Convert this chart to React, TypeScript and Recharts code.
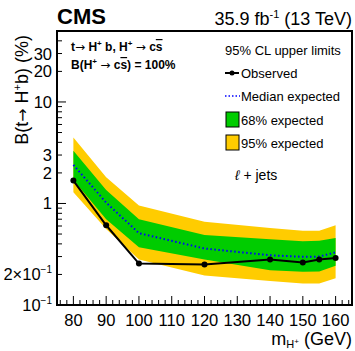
import React from 'react';
import { ComposedChart, Area, Line, XAxis, YAxis } from 'recharts';

// Charged Higgs mass points (GeV)
const masses = [80, 90, 100, 120, 140, 150, 155, 160];
// 95% CL upper limits on B(t -> H+ b) in %
const observed = [1.68, 0.61, 0.256, 0.25, 0.28, 0.262, 0.28, 0.29];
const expected = [2.4, 1.02, 0.51, 0.36, 0.309, 0.298, 0.3, 0.33];
const exp68Low = [1.7, 0.7, 0.37, 0.28, 0.22, 0.212, 0.214, 0.243];
const exp68High = [3.3, 1.36, 0.7, 0.49, 0.444, 0.424, 0.43, 0.457];
const exp95Low = [1.29, 0.56, 0.28, 0.195, 0.172, 0.163, 0.163, 0.183];
const exp95High = [4.47, 1.81, 0.955, 0.66, 0.573, 0.54, 0.54, 0.61];

const xTicks = [76, 78, 80, 82, 84, 86, 88, 90, 92, 94, 96, 98, 100, 102, 104, 106, 108, 110, 112, 114, 116, 118, 120, 122, 124, 126, 128, 130, 132, 134, 136, 138, 140, 142, 144, 146, 148, 150, 152, 154, 156, 158, 160, 162, 164];
const xLabels = [80, 90, 100, 110, 120, 130, 140, 150, 160];
const yTicks = [0.1, 0.2, 0.3, 0.4, 0.5, 0.6, 0.7, 0.8, 0.9, 1, 2, 3, 4, 5, 6, 7, 8, 9, 10, 20, 30, 40];
const yMajor = [0.1, 1, 10];
const yLabelMap: Record<string, [string, string]> = {
  '0.1': ['10', '\u22121'],
  '0.2': ['2\u00d710', '\u22121'],
  '1': ['1', ''],
  '2': ['2', ''],
  '3': ['3', ''],
  '10': ['10', ''],
  '20': ['20', ''],
  '30': ['30', ''],
};

const data = masses.map((m, i) => ({
  m,
  obs: observed[i],
  exp: expected[i],
  b68: [exp68Low[i], exp68High[i]],
  b95: [exp95Low[i], exp95High[i]],
}));

const FONT = '"Liberation Sans", Arial, Helvetica, sans-serif';
const ARROW_FONT = '"DejaVu Sans", sans-serif';
const GREEN = '#00cc00';
const YELLOW = '#ffcc00';
const BLUE = '#0000ff';

const YTick = (props: any) => {
  const { x, y, payload } = props;
  const v = payload.value;
  const major = yMajor.includes(v);
  const len = major ? 9 : 5;
  const lab = yLabelMap[String(v)];
  return (
    <g>
      <line x1={x} x2={x + len} y1={y} y2={y} stroke="#000" strokeWidth={1} />
      {lab && (
        <text x={x - 5} y={y + 6} textAnchor="end" fontFamily={FONT} fontSize={16.5} fill="#000">
          {lab[0]}
          {lab[1] && (
            <tspan dy={-7} fontSize={10}>
              {lab[1]}
            </tspan>
          )}
        </text>
      )}
    </g>
  );
};

const XTick = (props: any) => {
  const { x, y, payload } = props;
  const v = payload.value;
  const major = xLabels.includes(v);
  const len = major ? 9 : 5;
  return (
    <g>
      <line x1={x} x2={x} y1={y} y2={y - len} stroke="#000" strokeWidth={1} />
      {major && (
        <text x={x} y={y + 20.5} textAnchor="middle" fontFamily={FONT} fontSize={16.5} fill="#000">
          {v}
        </text>
      )}
    </g>
  );
};

const ObsDot = (props: any) => {
  const { cx, cy } = props;
  return <circle cx={cx} cy={cy} r={3} fill="#000" stroke="none" />;
};

export default function App() {
  return (
    <div style={{ position: 'absolute', left: 0, top: 0, width: 355, height: 351, background: '#fff' }}>
      <ComposedChart width={355} height={351} data={data} margin={{ top: 31, right: 3, bottom: 0, left: 0 }}>
        <XAxis
          dataKey="m"
          type="number"
          domain={[75, 165]}
          ticks={xTicks}
          interval={0}
          height={46}
          tickSize={0}
          tickMargin={0}
          axisLine={false}
          tickLine={false}
          tick={<XTick />}
          allowDataOverflow
        />
        <YAxis
          scale="log"
          type="number"
          domain={[0.1, 50]}
          ticks={yTicks}
          interval={0}
          width={57}
          tickSize={0}
          tickMargin={0}
          axisLine={false}
          tickLine={false}
          tick={<YTick />}
          allowDataOverflow
        />
        <Area dataKey="b95" type="linear" fill={YELLOW} fillOpacity={1} stroke="none" isAnimationActive={false} />
        <Area dataKey="b68" type="linear" fill={GREEN} fillOpacity={1} stroke="none" isAnimationActive={false} />
        <Line dataKey="exp" type="linear" stroke={BLUE} strokeWidth={2} strokeDasharray="1.5 2.5" dot={false} isAnimationActive={false} />
        <Line dataKey="obs" type="linear" stroke="#000" strokeWidth={2} dot={<ObsDot />} isAnimationActive={false} />
      </ComposedChart>
      <svg width={355} height={351} style={{ position: 'absolute', left: 0, top: 0, pointerEvents: 'none' }}>
        <rect x={57} y={31} width={295} height={274} fill="none" stroke="#000" strokeWidth={2} />
        <text x={57} y={24} fontFamily={FONT} fontSize={22} fontWeight="bold" fill="#000">CMS</text>
        <text x={352} y={25} textAnchor="end" fontFamily={FONT} fontSize={18} fill="#000">
          35.9 fb<tspan dy={-7} fontSize={11}>-1</tspan><tspan dy={7}> (13 TeV)</tspan>
        </text>
        <text transform="translate(28,35) rotate(-90)" textAnchor="end" fontFamily={FONT} fontSize={18} fill="#000">
          B(t<tspan fontFamily={ARROW_FONT} fontSize={16}>{'\u2192'}</tspan> H<tspan dy={-7} fontSize={11}>+</tspan><tspan dy={7}>b) (%)</tspan>
        </text>
        <text x={352} y={345} textAnchor="end" fontFamily={FONT} fontSize={18} fill="#000">
          m<tspan dy={3} fontSize={11}>H</tspan><tspan dy={-4} fontSize={8}>+</tspan><tspan dy={1} fontSize={18}> (GeV)</tspan>
        </text>
        <text x={71} y={51} fontFamily={FONT} fontSize={12} fontWeight="bold" fill="#000">
          t<tspan fontFamily={ARROW_FONT} fontWeight="normal">{'\u2192'}</tspan><tspan> H</tspan><tspan dy={-5} fontSize={8}>+</tspan><tspan dy={5}> b, H</tspan><tspan dy={-5} fontSize={8}>+</tspan><tspan dy={5}>  </tspan><tspan fontFamily={ARROW_FONT} fontWeight="normal">{'\u2192'}</tspan><tspan> c</tspan><tspan textDecoration="overline">s</tspan>
        </text>
        <text x={71} y={69} fontFamily={FONT} fontSize={12} fontWeight="bold" fill="#000">
          B(H<tspan dy={-5} fontSize={8}>+</tspan><tspan dy={5}>  </tspan><tspan fontFamily={ARROW_FONT} fontWeight="normal">{'\u2192'}</tspan><tspan> c</tspan><tspan textDecoration="overline">s</tspan><tspan>) = 100%</tspan>
        </text>
        <text x={225} y={55} fontFamily={FONT} fontSize={13} fill="#000">95% CL upper limits</text>
        <line x1={225} x2={239} y1={73} y2={73} stroke="#000" strokeWidth={2} />
        <circle cx={232} cy={73} r={2.5} fill="#000" />
        <text x={241} y={77.5} fontFamily={FONT} fontSize={13} fill="#000">Observed</text>
        <line x1={225} x2={240} y1={96} y2={96} stroke={BLUE} strokeWidth={1.5} strokeDasharray="1.5 2" />
        <text x={241} y={101} fontFamily={FONT} fontSize={13} fill="#000">Median expected</text>
        <rect x={226} y={112} width={13} height={15} fill={GREEN} stroke="#000" strokeWidth={1} />
        <text x={241} y={124.5} fontFamily={FONT} fontSize={13} fill="#000">68% expected</text>
        <rect x={226} y={135} width={13} height={15} fill={YELLOW} stroke="#000" strokeWidth={1} />
        <text x={241} y={147.5} fontFamily={FONT} fontSize={13} fill="#000">95% expected</text>
        <text x={235} y={180} fontFamily={FONT} fontSize={14} fill="#000">
          <tspan fontStyle="italic">{'\u2113'}</tspan> + jets
        </text>
      </svg>
    </div>
  );
}
